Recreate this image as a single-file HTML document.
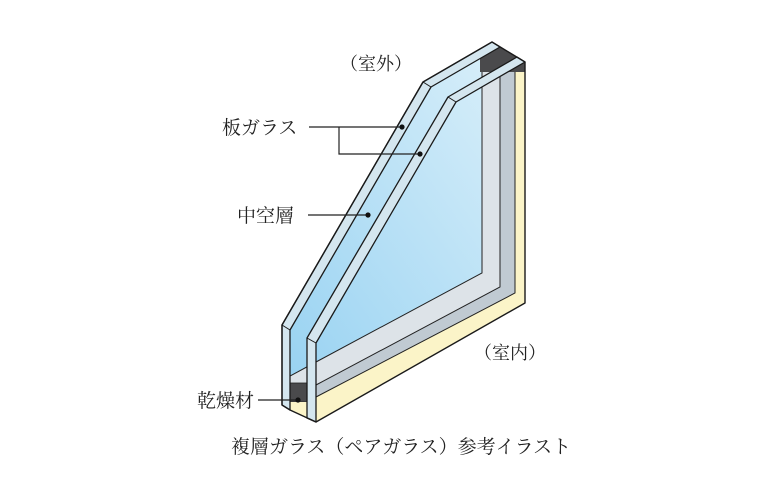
<!DOCTYPE html>
<html><head><meta charset="utf-8"><style>
html,body{margin:0;padding:0;background:#fff;}
svg{display:block}
text{font-family:"Liberation Serif","Noto Serif CJK SC","Noto Sans CJK JP",serif;fill:#222;}
</style></head><body>
<svg width="760" height="500" viewBox="0 0 760 500" xmlns="http://www.w3.org/2000/svg">
<defs>
<linearGradient id="g" x1="0" y1="1" x2="1" y2="0">
<stop offset="0" stop-color="#8ccdf0"/><stop offset="1" stop-color="#e2f3fb"/>
</linearGradient>
<clipPath id="c"><polygon points="282,405 282,325 423,82 492,42 525,62 525,303 316,422 290,410"/></clipPath>
</defs>
<g clip-path="url(#c)">
<rect x="250" y="30" width="300" height="420" fill="url(#g)"/>
<polygon points="482,30 600,30 600,500 290,500 290,376 316,362 482,273" fill="#dde3e8" stroke="#222" stroke-width="1"/>
<polygon points="500,30 600,30 600,500 290,500 290,399 316,385 500,287" fill="#c0cad2" stroke="#222" stroke-width="1"/>
<polygon points="515,30 600,30 600,500 290,500 290,411 316,397 515,293" fill="#fbf4c8" stroke="#222" stroke-width="1"/>
<polygon points="480,35 530,35 530,72 480,72" fill="#4a4a4c"/>
<rect x="290" y="383" width="17" height="19" fill="#4a4a4c" stroke="#222" stroke-width="0.8"/>
<rect x="290" y="402" width="17" height="10" fill="#fbf4c8"/>
</g>
<polygon points="282,405 282,325 423,82 492,42 500,47 431,87 290,330 290,410" fill="#d4e6ef" stroke="#1a1a1a" stroke-width="1.3" stroke-linejoin="round"/>
<line x1="282" y1="325" x2="290" y2="330" stroke="#1a1a1a" stroke-width="1"/>
<line x1="423" y1="82" x2="431" y2="87" stroke="#1a1a1a" stroke-width="1"/>
<polygon points="307,418 307,338 448,97 517,57 525,62 456,102 316,343 316,422" fill="#d4e6ef" stroke="#1a1a1a" stroke-width="1.3" stroke-linejoin="round"/>
<line x1="307" y1="338" x2="316" y2="343" stroke="#1a1a1a" stroke-width="1"/>
<line x1="448" y1="97" x2="456" y2="102" stroke="#1a1a1a" stroke-width="1"/>
<polygon points="282,405 282,325 423,82 492,42 525,62 525,303 316,422 290,410" fill="none" stroke="#1a1a1a" stroke-width="1.4" stroke-linejoin="round"/>
<g stroke="#222" stroke-width="1.2" fill="none">
<line x1="309" y1="127" x2="402" y2="127"/>
<polyline points="339,127 339,154 420,154"/>
<line x1="308" y1="215" x2="368" y2="215"/>
<line x1="258" y1="400" x2="298" y2="400"/>
</g>
<g fill="#111"><circle cx="402" cy="127" r="2.6"/><circle cx="420" cy="154" r="2.6"/><circle cx="368" cy="215" r="2.6"/><circle cx="298" cy="400" r="2.6"/></g>
<text x="340" y="70" font-size="18">（室外）</text>
<text x="222" y="134" font-size="19">板ガラス</text>
<text x="237" y="222" font-size="19">中空層</text>
<text x="474" y="359" font-size="18">（室内）</text>
<text x="197" y="407" font-size="19">乾燥材</text>
<text x="231" y="453" font-size="19">複層ガラス（ペアガラス）参考イラスト</text>
</svg>
</body></html>
